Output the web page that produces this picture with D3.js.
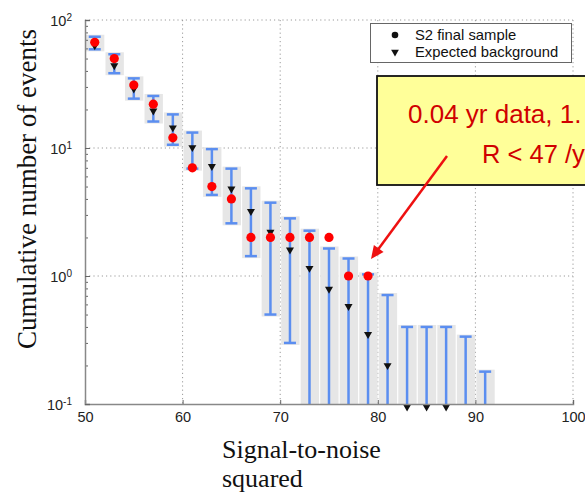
<!DOCTYPE html>
<html>
<head>
<meta charset="utf-8">
<script src="https://cdn.jsdelivr.net/npm/d3@7"></script>
<style>
  body { margin: 0; background: #fff; }
  svg { display: block; font-family: "Liberation Sans", Arial, sans-serif; }
</style>
</head>
<body>
<svg width="585" height="496"></svg>
<script>
// bins (signal-to-noise squared) and values
const bins      = [51, 53, 55, 57, 59, 61, 63, 65, 67, 69, 71, 73, 75, 77, 79, 81, 83, 85, 87, 89, 91];
const observed  = [67, 50, 31, 22, 12, 7, 5, 4, 2, 2, 2, 2, 2, 1, 1, null, null, null, null, null, null];
const expected  = [63, 44, 29, 19.5, 14.4, 10.1, 7.2, 4.8, 3.2, 2.2, 1.6, 1.15, 0.79, 0.58, 0.35, 0.2, 0.095, 0.095, 0.095, null, null];
const errHigh   = [74, 54, 35, 25.5, 18.3, 13.2, 9.8, 6.9, 4.84, 3.74, 2.82, 2.26, 1.64, 1.37, 1.03, 0.71, 0.40, 0.40, 0.40, 0.336, 0.179];
const errLow    = [59, 38.4, 24.3, 16.1, 10.6, 6.9, 4.3, 2.58, 1.43, 0.50, 0.30, null, null, null, null, null, null, null, null, null, null];
const xTicks = [50, 60, 70, 80, 90, 100];
const yTicks = [0.1, 1, 10, 100];
const yExp = ["-1", "0", "1", "2"];
const legendItems = ["S2 final sample", "Expected background"];
const noteLines = ["0.04 yr data, 1.", "R < 47 /y"];

const svg = d3.select("svg");
const x = d3.scaleLinear().domain([50, 100]).range([85, 573]);
const y = d3.scaleLog().domain([0.1, 100]).range([404, 20]);

// grid
const grid = svg.append("g").attr("stroke", "#9a9a9a").attr("stroke-dasharray", "1.2,3").attr("stroke-width", 1);
xTicks.slice(1).forEach(t => {
  grid.append("line").attr("x1", x(t)).attr("x2", x(t)).attr("y1", y(100)).attr("y2", y(0.1));
});
yTicks.slice(1).forEach(t => {
  grid.append("line").attr("x1", x(50)).attr("x2", x(100)).attr("y1", y(t)).attr("y2", y(t));
});

const data = bins.map((b, i) => ({
  b: b, obs: observed[i], exp: expected[i], hi: errHigh[i], lo: errLow[i]
}));

// gray boxes
svg.append("g").selectAll("rect").data(data).enter().append("rect")
  .attr("x", d => x(d.b - 0.9))
  .attr("width", d => x(d.b + 0.98) - x(d.b - 0.9))
  .attr("y", d => y(d.hi) - 2)
  .attr("height", d => (d.lo ? y(d.lo) + 2 : y(0.1)) - y(d.hi) + 2)
  .attr("fill", "#e6e6e6");

// error bars
const eb = svg.append("g").attr("stroke", "#5b8ef0").attr("stroke-width", 2.5);
data.forEach(d => {
  const cx = x(d.b);
  const yb = d.lo ? y(d.lo) : y(0.1);
  eb.append("line").attr("x1", cx).attr("x2", cx).attr("y1", y(d.hi)).attr("y2", yb);
  eb.append("line").attr("x1", cx - 6).attr("x2", cx + 6).attr("y1", y(d.hi)).attr("y2", y(d.hi));
  if (d.lo) eb.append("line").attr("x1", cx - 6).attr("x2", cx + 6).attr("y1", yb).attr("y2", yb);
});

// expected background triangles
const tri = d3.symbol().type(d3.symbolTriangle).size(28);
svg.append("g").selectAll("path").data(data.filter(d => d.exp != null)).enter().append("path")
  .attr("d", tri)
  .attr("transform", d => `translate(${x(d.b)},${y(d.exp)}) rotate(180)`)
  .attr("fill", "#111");

// observed points
svg.append("g").selectAll("circle").data(data.filter(d => d.obs != null)).enter().append("circle")
  .attr("cx", d => x(d.b)).attr("cy", d => y(d.obs)).attr("r", 4.6)
  .attr("fill", "#ff0000");

// axes
const xAxis = svg.append("g").attr("transform", "translate(0,404)")
  .call(d3.axisBottom(x).tickValues(xTicks).tickSize(-4).tickPadding(8).tickFormat(d3.format("d")));
xAxis.select(".domain").attr("stroke", "#888").attr("stroke-width", 1.5);
xAxis.selectAll(".tick line").attr("stroke", "#666");
xAxis.selectAll("text").attr("font-size", 14.5).attr("fill", "#222")
  .attr("font-family", "Liberation Sans, Arial, sans-serif");

const minors = [];
[0.1, 1, 10].forEach(dec => { for (let k = 2; k <= 9; k++) minors.push(dec * k); });
const yMinor = svg.append("g").attr("transform", "translate(85,0)")
  .call(d3.axisLeft(y).tickValues(minors).tickSize(-3).tickFormat(""));
yMinor.select(".domain").remove();
yMinor.selectAll(".tick line").attr("stroke", "#666");

const yAxis = svg.append("g").attr("transform", "translate(85,0)")
  .call(d3.axisLeft(y).tickValues(yTicks).tickSize(-5).tickFormat(""));
yAxis.select(".domain").attr("stroke", "#888").attr("stroke-width", 1.5);
yAxis.selectAll(".tick line").attr("stroke", "#666");
yAxis.selectAll(".tick").each(function(d, i) {
  const t = d3.select(this).append("text")
    .attr("x", -13).attr("y", 0).attr("dy", "0.4em")
    .attr("text-anchor", "end").attr("font-size", 14.5).attr("fill", "#222")
    .attr("font-family", "Liberation Sans, Arial, sans-serif");
  t.append("tspan").text("10");
  t.append("tspan").attr("dy", "-0.5em").attr("font-size", 10).text(yExp[i]);
});

// axis titles
svg.append("text")
  .attr("transform", "translate(36,189) rotate(-90)")
  .attr("text-anchor", "middle")
  .attr("font-family", "Liberation Serif, Times New Roman, serif")
  .attr("font-size", 27).attr("fill", "#111")
  .text("Cumulative number of events");

const xl = svg.append("text")
  .attr("font-family", "Liberation Serif, Times New Roman, serif")
  .attr("font-size", 26).attr("fill", "#111");
xl.append("tspan").attr("x", 222).attr("y", 458).text("Signal-to-noise");
xl.append("tspan").attr("x", 222).attr("y", 487).text("squared");

// legend
const lg = svg.append("g");
lg.append("rect").attr("x", 370.5).attr("y", 23.5).attr("width", 201).attr("height", 39)
  .attr("fill", "#fff").attr("stroke", "#666").attr("stroke-width", 1);
lg.append("circle").attr("cx", 395).attr("cy", 35).attr("r", 3.3).attr("fill", "#111");
lg.append("path").attr("d", d3.symbol().type(d3.symbolTriangle).size(26))
  .attr("transform", "translate(395,52) rotate(180)").attr("fill", "#111");
legendItems.forEach((s, i) => {
  lg.append("text").attr("x", 415).attr("y", 39.5 + i * 17.3)
    .attr("font-size", 14.8).attr("fill", "#111").text(s);
});

// annotation box
svg.append("rect").attr("x", 377).attr("y", 76).attr("width", 230).attr("height", 109)
  .attr("fill", "#ffff99").attr("stroke", "#111").attr("stroke-width", 1.8);
svg.append("text").attr("x", 408).attr("y", 123).attr("font-size", 26)
  .attr("fill", "#d00000").text(noteLines[0]);
svg.append("text").attr("x", 482).attr("y", 163).attr("font-size", 25.5)
  .attr("fill", "#d00000").text(noteLines[1]);

// arrow
const x0 = 447, y0 = 156, x1 = 371, y1 = 259;
const ang = Math.atan2(y1 - y0, x1 - x0);
svg.append("line").attr("x1", x0).attr("y1", y0)
  .attr("x2", x1 - 10 * Math.cos(ang)).attr("y2", y1 - 10 * Math.sin(ang))
  .attr("stroke", "#ee1111").attr("stroke-width", 2.5);
const hl = 13, hw = 6;
const bx = x1 - hl * Math.cos(ang), by = y1 - hl * Math.sin(ang);
svg.append("path")
  .attr("d", `M${x1},${y1}L${bx + hw * Math.sin(ang)},${by - hw * Math.cos(ang)}L${bx - hw * Math.sin(ang)},${by + hw * Math.cos(ang)}Z`)
  .attr("fill", "#ee1111");
</script>
</body>
</html>
